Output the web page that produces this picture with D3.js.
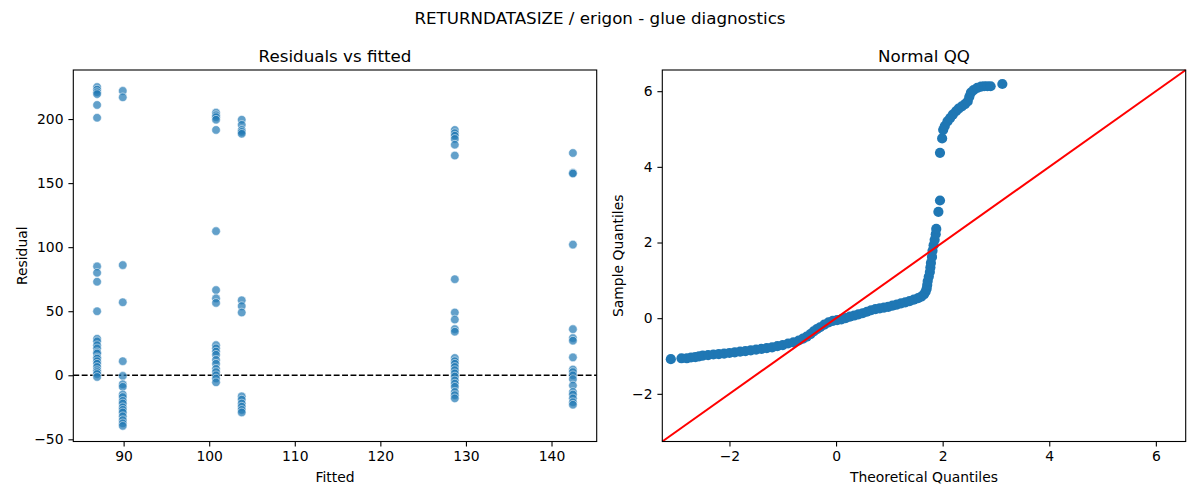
<!DOCTYPE html>
<html>
<head>
<meta charset="utf-8">
<script src="https://cdn.jsdelivr.net/npm/d3@7"></script>
<style>
  body { margin: 0; background: #fff; }
  text { font-family: "DejaVu Sans", sans-serif; fill: #000; }
  .tick line { stroke: #000; stroke-width: 1.1; }
  .tick text { font-size: 13.9px; }
</style>
</head>
<body>
<script>
// residuals vs fitted: one residual list per fitted level
var fittedLevels = [86.9, 89.9, 100.8, 103.8, 128.7, 142.5];
var residG1 = [225, 223, 221, 219.5, 211, 201, 85, 80, 73, 50, 28.5, 26.5, 23.5, 21, 18, 17, 14, 13, 11, 9, 6.5, 4, 2.5, 1, -1.3];
var residG2 = [222, 217, 86, 57, 11, -0.5, -7, -9, -15, -17, -20, -22, -25, -27, -29, -32, -35, -37.5, -39.5];
var residG3 = [205, 203, 201.5, 199.5, 191.5, 112.5, 66.5, 60, 56.5, 23.5, 21, 18.5, 16, 12, 9, 5, 2.5, 0, -2.5, -5.5];
var residG4 = [199.5, 195.5, 191.5, 190, 188.5, 58.5, 54, 49, -16.5, -19, -22, -24.5, -27, -29];
var residG5 = [191.5, 189, 187, 184.5, 180, 171.5, 75, 49, 43.5, 36, 34, 13.5, 11, 9, 6.5, 4, 1.5, -1, -4, -6.5, -9, -13, -15.5, -18];
var residG6 = [173.5, 158, 157.5, 102, 36, 29, 27, 14, 4.5, 2.5, 0, -3, -8, -13, -15, -18, -21, -23];
var residGroups = [residG1, residG2, residG3, residG4, residG5, residG6];

// normal QQ: theoretical vs sample quantiles
var qqTheoretical = [-3.10, -2.90, -2.80, -2.72, -2.64, -2.57, -2.50, -2.40, -2.30, -2.20, -2.10, -2.00,
  -1.90, -1.80, -1.70, -1.60, -1.50, -1.40, -1.30, -1.20, -1.10, -1.00, -0.90, -0.80, -0.70, -0.62,
  -0.55, -0.48, -0.42, -0.36, -0.30, -0.22, -0.14, -0.06, 0.02, 0.10, 0.18, 0.26, 0.34, 0.42, 0.50,
  0.58, 0.66, 0.74, 0.82, 0.90, 0.98, 1.06, 1.14, 1.22, 1.30, 1.38, 1.46, 1.54, 1.60, 1.65, 1.68,
  1.70, 1.71, 1.72, 1.74, 1.76, 1.77, 1.78, 1.80, 1.81, 1.83, 1.85, 1.87, 1.88, 1.92, 1.95, 1.95,
  1.99, 2.01, 2.04, 2.09, 2.14, 2.19, 2.25, 2.30, 2.36, 2.42, 2.47, 2.50, 2.53, 2.58, 2.65, 2.72,
  2.78, 2.84, 2.90, 3.12];
var qqSample = [-1.085, -1.06, -1.06, -1.04, -1.03, -1.01, -0.99, -0.975, -0.96, -0.95, -0.935, -0.92,
  -0.905, -0.885, -0.87, -0.85, -0.83, -0.81, -0.79, -0.77, -0.74, -0.71, -0.67, -0.64, -0.59, -0.54,
  -0.49, -0.42, -0.35, -0.29, -0.24, -0.17, -0.11, -0.07, -0.05, -0.03, 0.00, 0.04, 0.07, 0.10, 0.13,
  0.17, 0.21, 0.24, 0.26, 0.28, 0.30, 0.33, 0.36, 0.39, 0.42, 0.45, 0.49, 0.53, 0.57, 0.63, 0.70,
  0.78, 0.88, 0.98, 1.10, 1.22, 1.34, 1.46, 1.62, 1.78, 1.93, 2.07, 2.22, 2.36, 2.81, 3.11, 4.37,
  4.75, 4.98, 5.08, 5.20, 5.29, 5.38, 5.47, 5.54, 5.60, 5.66, 5.73, 5.85, 5.96, 6.03, 6.09, 6.12,
  6.13, 6.13, 6.13, 6.19];

var residTicks = [-50, 0, 50, 100, 150, 200];
var fittedTicks = [90, 100, 110, 120, 130, 140];
var qqTicks = [-2, 0, 2, 4, 6];

var W = 1200, H = 500;
var plotTop = 70, plotBottom = 441.5;
var leftBox = [73.3, 596.7], rightBox = [662.3, 1185.7];
var tickLen = 4.9, tickPad = 4.9;

var svg = d3.select("body").append("svg")
    .attr("width", W).attr("height", H);

svg.append("text")
   .attr("x", 600).attr("y", 24)
   .attr("text-anchor", "middle")
   .style("font-size", "16.7px")
   .text("RETURNDATASIZE / erigon - glue diagnostics");

function frame(box, title, xLabel, yLabel, yLabelX) {
    var cx = (box[0] + box[1]) / 2;
    svg.append("text")
       .attr("x", cx).attr("y", 62)
       .attr("text-anchor", "middle")
       .style("font-size", "16.7px")
       .text(title);
    svg.append("text")
       .attr("x", cx).attr("y", 482)
       .attr("text-anchor", "middle")
       .style("font-size", "13.9px")
       .text(xLabel);
    svg.append("text")
       .attr("transform", "translate(" + yLabelX + "," + ((plotTop + plotBottom) / 2) + ") rotate(-90)")
       .attr("text-anchor", "middle")
       .style("font-size", "13.9px")
       .text(yLabel);
}

function axes(g, x, y, xt, yt) {
    g.append("g")
     .attr("transform", "translate(0," + plotBottom + ")")
     .call(d3.axisBottom(x).tickValues(xt).tickSize(tickLen).tickPadding(tickPad).tickSizeOuter(0))
     .call(function(s){ s.select(".domain").remove(); });
    g.append("g")
     .attr("transform", "translate(" + x.range()[0] + ",0)")
     .call(d3.axisLeft(y).tickValues(yt).tickSize(tickLen).tickPadding(tickPad).tickSizeOuter(0))
     .call(function(s){ s.select(".domain").remove(); });
    g.selectAll("g[font-family]").attr("font-family", null).attr("font-size", null);
}

function spines(box) {
    svg.append("rect")
       .attr("x", box[0]).attr("y", plotTop)
       .attr("width", box[1] - box[0]).attr("height", plotBottom - plotTop)
       .attr("fill", "none").attr("stroke", "#000").attr("stroke-width", 1.1);
}

// ---- left: residuals vs fitted
var x1 = d3.scaleLinear().domain([84.12, 145.28]).range(leftBox);
var y1 = d3.scaleLinear().domain([-51.7, 238.3]).range([plotBottom, plotTop]);

var residPoints = [];
residGroups.forEach(function(g, i){
    g.forEach(function(r){ residPoints.push({ f: fittedLevels[i], r: r }); });
});

var g1 = svg.append("g");
axes(g1, x1, y1, fittedTicks, residTicks);

g1.append("line")
  .attr("x1", leftBox[0]).attr("x2", leftBox[1])
  .attr("y1", y1(0)).attr("y2", y1(0))
  .attr("stroke", "#000").attr("stroke-width", 1.3)
  .attr("stroke-dasharray", "5.9,2.5");

g1.selectAll("circle")
  .data(residPoints)
  .enter()
  .append("circle")
  .attr("cx", function(d){ return x1(d.f); })
  .attr("cy", function(d){ return y1(d.r); })
  .attr("r", 4.3)
  .attr("fill", "#1f77b4")
  .attr("fill-opacity", 0.7)
  .attr("stroke", "#fff")
  .attr("stroke-opacity", 0.7)
  .attr("stroke-width", 0.75);

spines(leftBox);
frame(leftBox, "Residuals vs fitted", "Fitted", "Residual", 27);

// ---- right: normal QQ
var qqDom = [-3.26, 6.56];
var x2 = d3.scaleLinear().domain(qqDom).range(rightBox);
var y2 = d3.scaleLinear().domain(qqDom).range([plotBottom, plotTop]);

var g2 = svg.append("g");
axes(g2, x2, y2, qqTicks, qqTicks);

g2.selectAll("circle")
  .data(qqTheoretical)
  .enter()
  .append("circle")
  .attr("cx", function(d){ return x2(d); })
  .attr("cy", function(d, i){ return y2(qqSample[i]); })
  .attr("r", 5.1)
  .attr("fill", "#1f77b4");

g2.append("line")
  .attr("x1", x2(qqDom[0])).attr("y1", y2(qqDom[0]))
  .attr("x2", x2(qqDom[1])).attr("y2", y2(qqDom[1]))
  .attr("stroke", "#ff0000").attr("stroke-width", 2);

spines(rightBox);
frame(rightBox, "Normal QQ", "Theoretical Quantiles", "Sample Quantiles", 623);
</script>
</body>
</html>
